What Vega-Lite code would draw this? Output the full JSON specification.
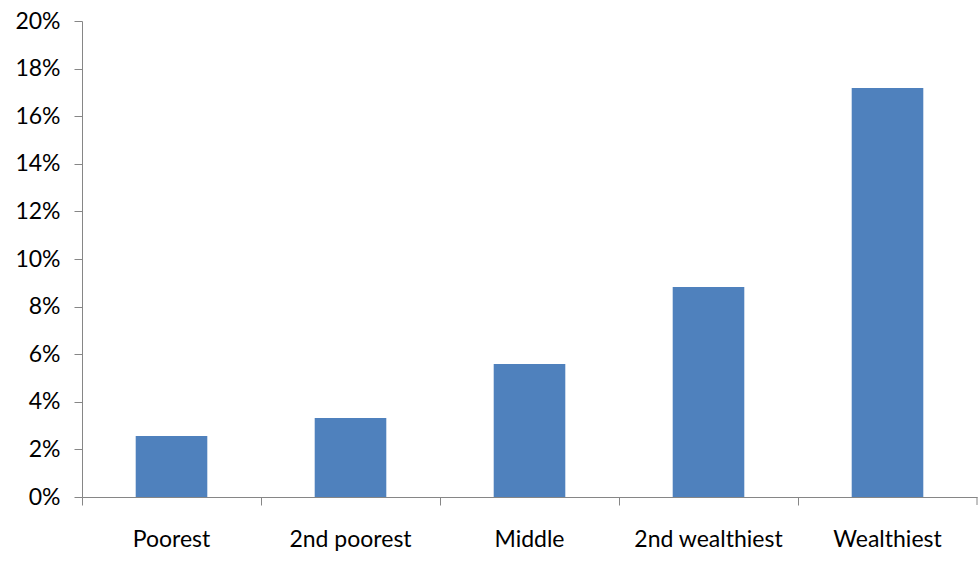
{
  "$schema": "https://vega.github.io/schema/vega-lite/v6.json",
  "width": 895,
  "height": 476,
  "autosize": {"type": "none"},
  "padding": {"left": 82, "top": 21, "right": 3, "bottom": 66},
  "background": "white",
  "config": {"view": {"stroke": null}, "font": "Lato"},
  "data": {"values": [
    {"group": "Poorest", "share": 0.0256},
    {"group": "2nd poorest", "share": 0.0332},
    {"group": "Middle", "share": 0.0559},
    {"group": "2nd wealthiest", "share": 0.0882},
    {"group": "Wealthiest", "share": 0.1718}
  ]},
  "encoding": {
    "x": {
      "field": "group", "type": "nominal", "sort": null,
      "scale": {"paddingInner": 0, "paddingOuter": 0},
      "axis": {
        "title": null, "labelAngle": 0, "bandPosition": 0,
        "domainColor": "#868686", "tickColor": "#868686", "tickSize": 8,
        "labelFontSize": 23, "labelColor": "#000000", "labelPadding": 23,
        "labelFont": "Lato"
      }
    }
  },
  "layer": [
    {
      "mark": {"type": "bar", "color": "#4F81BD", "width": {"band": 0.4}},
      "encoding": {
        "y": {
          "field": "share", "type": "quantitative",
          "scale": {"domain": [0, 0.2], "nice": false},
          "axis": {
            "title": null, "format": ".0%", "values": [0, 0.02, 0.04, 0.06, 0.08, 0.1, 0.12, 0.14, 0.16, 0.18, 0.2],
            "grid": false, "domainColor": "#868686", "tickColor": "#868686", "tickSize": 8,
            "labelFontSize": 23, "labelColor": "#000000", "labelPadding": 14,
            "labelFont": "Lato"
          }
        }
      }
    },
    {
      "transform": [{"filter": "datum.group === 'Wealthiest'"}],
      "mark": {"type": "rule", "color": "#868686", "clip": false, "strokeWidth": 1},
      "encoding": {
        "x": {"field": "group", "type": "nominal", "sort": null, "bandPosition": 1},
        "y": {"datum": 0},
        "y2": {"datum": -0.00336}
      }
    }
  ]
}
